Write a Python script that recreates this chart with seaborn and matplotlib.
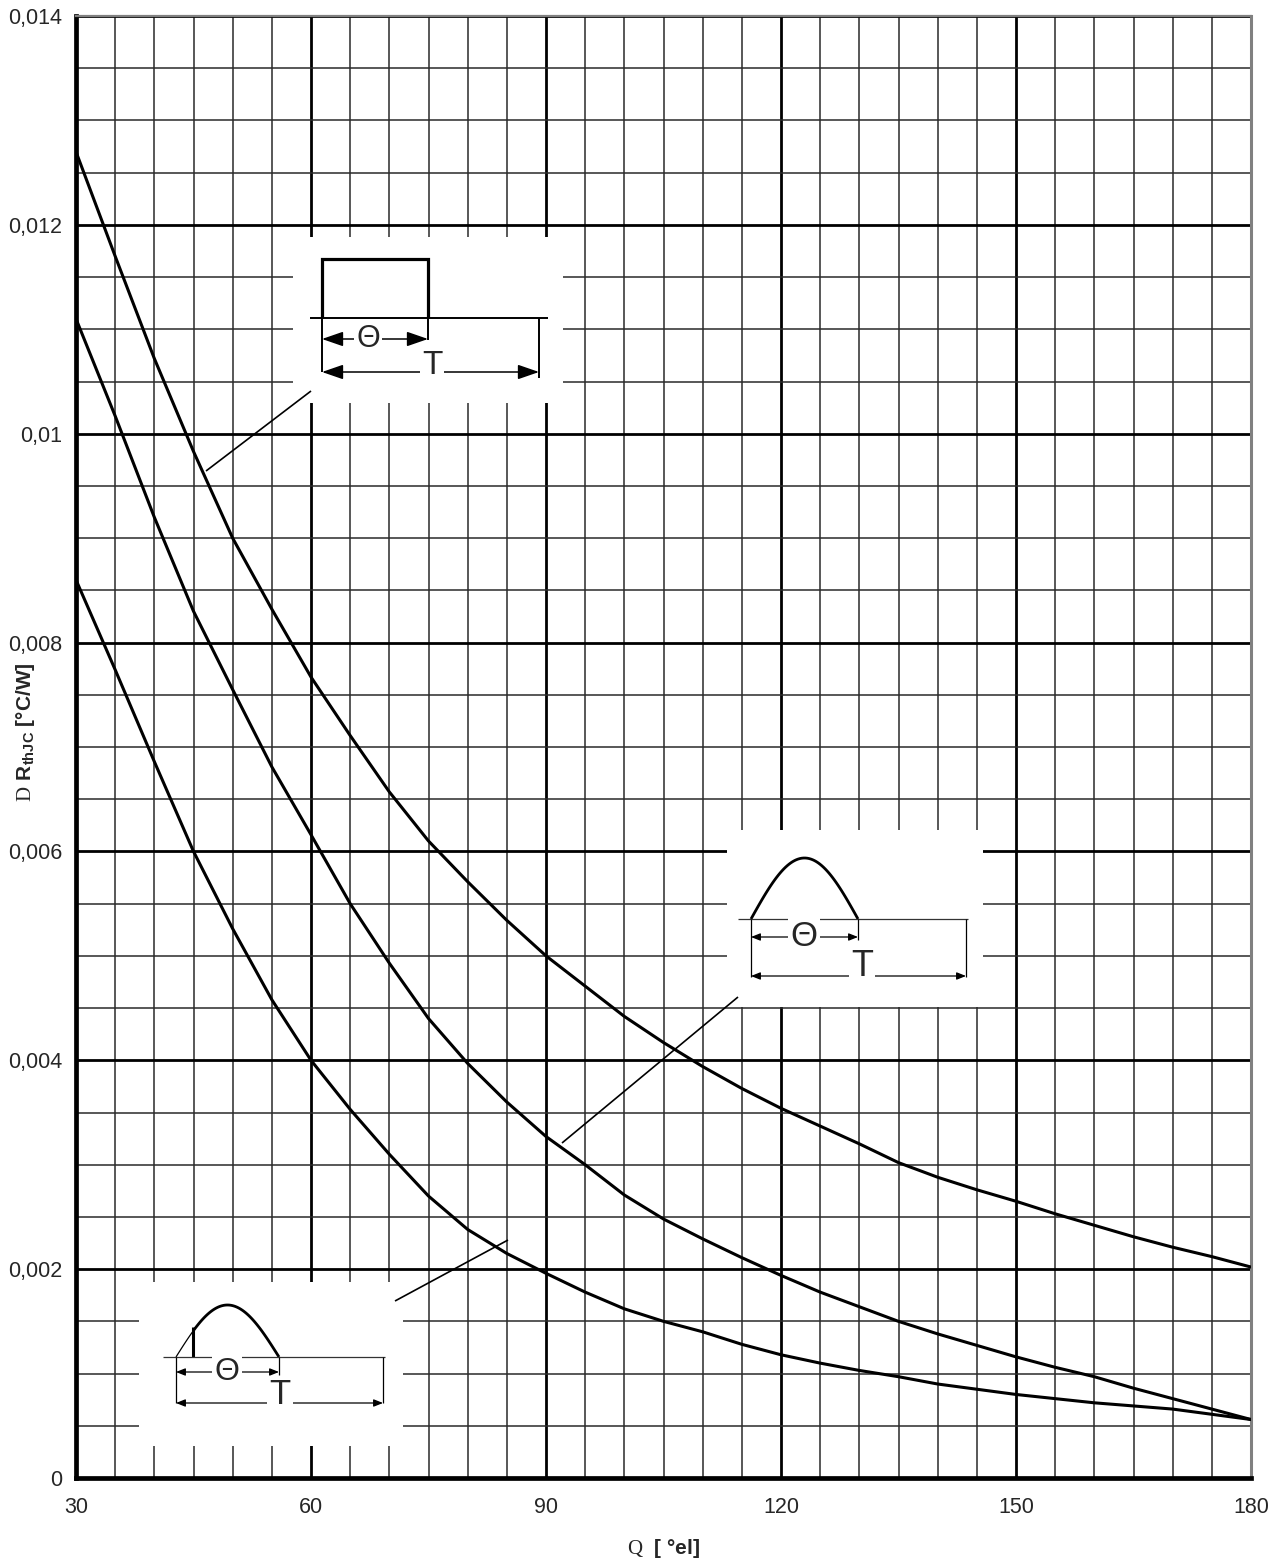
import numpy as np
import matplotlib
matplotlib.use("Agg")
import matplotlib.pyplot as plt
import seaborn as sns
from matplotlib.ticker import MultipleLocator
from matplotlib.patches import Rectangle

# conduction angle [°el]
theta = [30, 35, 40, 45, 50, 55, 60, 65, 70, 75, 80, 85, 90, 95, 100, 105,
         110, 115, 120, 125, 130, 135, 140, 145, 150, 155, 160, 165, 170, 175, 180]

# delta R_thJC [°C/W] - rectangular current
r_rect = [0.0127, 0.0117, 0.01072, 0.00983, 0.0090, 0.00832, 0.00767, 0.00711,
          0.00657, 0.00610, 0.00571, 0.00534, 0.00500, 0.00471, 0.00442, 0.00417,
          0.00394, 0.00373, 0.00354, 0.00337, 0.00320, 0.00302, 0.00288, 0.00276,
          0.00265, 0.00253, 0.00242, 0.00231, 0.00221, 0.00212, 0.00202]
# sine half wave
r_sine = [0.0111, 0.01017, 0.0092, 0.0083, 0.00755, 0.00681, 0.00616, 0.0055,
          0.00493, 0.0044, 0.00397, 0.0036, 0.00327, 0.0030, 0.00271, 0.00248,
          0.00229, 0.00211, 0.00194, 0.00178, 0.00164, 0.0015, 0.00138, 0.00127,
          0.00116, 0.00106, 0.00097, 0.00086, 0.00076, 0.00066, 0.00056]
# phase controlled sine
r_phase = [0.0086, 0.00774, 0.00686, 0.0060, 0.00526, 0.00458, 0.0040, 0.00353,
           0.0031, 0.0027, 0.00238, 0.00215, 0.00196, 0.00178, 0.00162, 0.0015,
           0.0014, 0.00128, 0.00118, 0.0011, 0.00103, 0.00097, 0.0009, 0.00085,
           0.0008, 0.00076, 0.00072, 0.00069, 0.00066, 0.00061, 0.00056]

x_ticks = [30, 60, 90, 120, 150, 180]
y_ticks = [0, 0.002, 0.004, 0.006, 0.008, 0.01, 0.012, 0.014]
y_labels = ["0", "0,002", "0,004", "0,006", "0,008", "0,01", "0,012", "0,014"]

sns.set_style("white")
plt.rcParams["font.family"] = ["Liberation Sans", "DejaVu Sans"]
plt.rcParams["mathtext.fontset"] = "custom"
plt.rcParams["mathtext.rm"] = "Liberation Serif"
plt.rcParams["mathtext.bf"] = "Liberation Sans:bold"

fig, ax = plt.subplots(figsize=(12.78, 15.64), dpi=100)
fig.subplots_adjust(left=76 / 1278, right=1251 / 1278, bottom=1 - 1478 / 1564, top=1 - 16 / 1564)

for ys in (r_rect, r_sine, r_phase):
    sns.lineplot(x=theta, y=ys, ax=ax, color="black", linewidth=2.2, zorder=3)

ax.set_xlim(30, 180)
ax.set_ylim(0, 0.014)
ax.set_xticks(x_ticks)
ax.set_yticks(y_ticks)
ax.set_yticklabels(y_labels)
ax.xaxis.set_minor_locator(MultipleLocator(5))
ax.yaxis.set_minor_locator(MultipleLocator(0.0005))
ax.set_axisbelow(True)
ax.grid(which="major", color="black", linewidth=2.0)
ax.grid(which="minor", color="#2a2a2a", linewidth=1.1)
ax.tick_params(which="major", length=6, width=3, color="black", labelsize=15.5)
ax.tick_params(axis="x", pad=8)
ax.tick_params(axis="y", pad=4)
ax.tick_params(which="minor", length=0)

for side in ("left", "bottom"):
    ax.spines[side].set_color("black")
    ax.spines[side].set_linewidth(3.4)
ax.spines["top"].set_color("#808080")
ax.spines["top"].set_linewidth(1.6)
ax.spines["right"].set_color("#808080")
ax.spines["right"].set_linewidth(2.2)

ax.set_ylabel(r"$\mathrm{D}\ \mathbf{R_{thJC}}$ [°C/W]", fontsize=15, fontweight="bold", va="center")
ax.yaxis.set_label_coords(-0.043, 0.51)
ax.set_xlabel(r"$\mathrm{Q}$  [ °el]", fontsize=15, fontweight="bold", va="center")
ax.xaxis.set_label_coords(0.5, -0.048)


# --- waveform sketches (drawn in image pixel positions) ---
def px(x):
    return 30 + (x - 76) * 150 / 1175


def py(y):
    return (1478 - y) * 0.014 / 1462


def seg(pts, lw=1.1, color="black"):
    ax.plot([px(p[0]) for p in pts], [py(p[1]) for p in pts], color=color,
            lw=lw, zorder=5, solid_capstyle="butt", solid_joinstyle="miter")


def box(x0, y0, x1, y1):
    ax.add_patch(Rectangle((px(x0), py(y1)), px(x1) - px(x0), py(y0) - py(y1),
                           facecolor="white", edgecolor="none", zorder=1))


def arrow2(x0, x1, y, hl, hw, lw=1.1):
    ax.annotate("", xy=(px(x1), py(y)), xytext=(px(x0), py(y)), zorder=5,
                arrowprops=dict(arrowstyle=f"<|-|>,head_length={hl},head_width={hw}",
                                color="black", lw=lw, shrinkA=0, shrinkB=0))


def label(x, y, s, size):
    ax.text(px(x), py(y), s, fontsize=size, ha="center", va="center", zorder=6,
            family=["DejaVu Sans Condensed", "Liberation Sans"],
            bbox=dict(facecolor="white", edgecolor="none", pad=1.5))


def half_sine(x0, x1, yb, ytop, start=0.0):
    t = np.linspace(start, 1, 60)
    return list(zip(x0 + (x1 - x0) * t, yb - (yb - ytop) * np.sin(np.pi * t)))


# rectangular pulse
box(293, 237, 563, 403)
seg([(322, 318), (322, 259), (428, 259), (428, 318)], lw=2.3)
seg([(310, 318), (548, 318)], lw=1.4)
seg([(322, 318), (322, 372)], lw=1.4)
seg([(428, 318), (428, 340)], lw=1.4)
seg([(539, 318), (539, 378)], lw=1.4)
arrow2(322, 428, 339, 1.3, 0.45)
arrow2(322, 539, 372, 1.3, 0.45)
label(368, 339, "Θ", 22)
label(432, 366, "T", 24)
seg([(206, 471), (311, 391)], lw=1.2)

# sine half wave
box(727, 830, 983, 1007)
seg(half_sine(751, 858, 919, 858), lw=2.0)
seg([(738, 919), (968, 919)], lw=0.9, color="#333333")
seg([(751, 919), (751, 977)], lw=0.9)
seg([(858, 919), (858, 940)], lw=0.9)
seg([(966, 919), (966, 977)], lw=0.9)
arrow2(751, 858, 937, 0.55, 0.22, lw=0.9)
arrow2(751, 966, 976, 0.55, 0.22, lw=0.9)
label(804, 937, "Θ", 25)
label(862, 967, "T", 26)
seg([(562, 1143), (738, 997)], lw=1.2)

# phase controlled sine
box(139, 1282, 403, 1446)
seg(half_sine(176, 279, 1357, 1305, 0.0)[:11], lw=0.9)
seg(half_sine(176, 279, 1357, 1305, 0.165), lw=2.0)
seg([(193, 1357), (193, 1327)], lw=2.2)
seg([(163, 1357), (385, 1357)], lw=0.9, color="#333333")
seg([(176, 1357), (176, 1403)], lw=0.9)
seg([(279, 1357), (279, 1375)], lw=0.9)
seg([(383, 1357), (383, 1403)], lw=0.9)
arrow2(176, 279, 1372, 0.55, 0.22, lw=0.9)
arrow2(176, 383, 1403, 0.55, 0.22, lw=0.9)
label(227, 1372, "Θ", 23)
label(280, 1395, "T", 25)
seg([(395, 1301), (508, 1240)], lw=1.2)

fig.savefig("out.png", dpi=100)
